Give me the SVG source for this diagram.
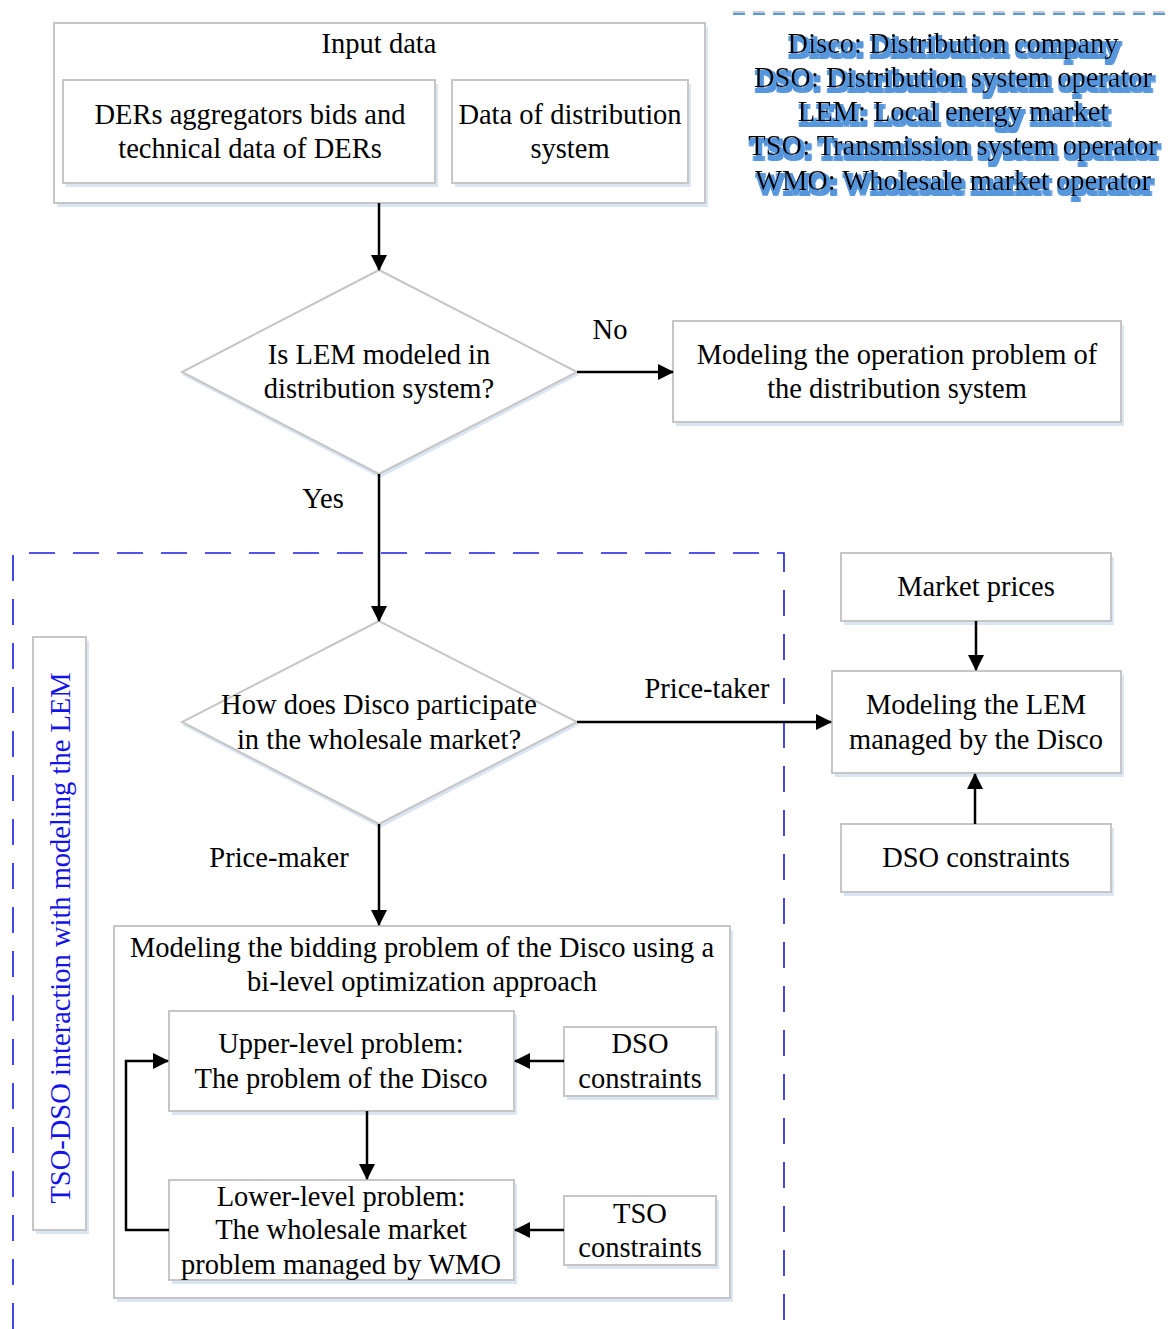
<svg xmlns="http://www.w3.org/2000/svg" width="1168" height="1329" viewBox="0 0 1168 1329">
<defs>
<style>
.box{fill:#fff;stroke:#c6c6c6;stroke-width:2}
.sh{fill:#dae6f4}
.t{font-family:"Liberation Serif","Times New Roman",serif;font-size:28.5px;fill:#000;text-anchor:middle}
.lg{font-family:"Liberation Serif","Times New Roman",serif;font-size:28.5px;fill:#000;text-anchor:middle;filter:url(#glow)}
.c{stroke:#000;stroke-width:2.5;fill:none}
.blue{font-family:"Liberation Serif","Times New Roman",serif;font-size:28.5px;fill:#1414e8;text-anchor:middle}
</style>
<marker id="ah" viewBox="0 0 16 16" refX="15" refY="8" markerWidth="16" markerHeight="16" markerUnits="userSpaceOnUse" orient="auto">
<path d="M0,0 L16,8 L0,16 Z" fill="#000"/>
</marker>
<filter id="glow" x="-10%" y="-30%" width="120%" height="180%">
<feMorphology in="SourceAlpha" operator="dilate" radius="1.8" result="d"/>
<feOffset in="d" dx="2" dy="4" result="o"/>
<feGaussianBlur in="o" stdDeviation="0.7" result="b"/>
<feFlood flood-color="#5696dc"/>
<feComposite in2="b" operator="in" result="s"/>
<feMerge><feMergeNode in="s"/><feMergeNode in="SourceGraphic"/></feMerge>
</filter>
</defs>
<rect width="1168" height="1329" fill="#fff"/>

<!-- legend -->
<g id="legend">
<line x1="733" y1="14" x2="1168" y2="14" stroke="#5a9ad8" stroke-width="2" stroke-dasharray="12,8"/>
<line x1="733" y1="12" x2="1168" y2="12" stroke="#bbbbbb" stroke-width="1.5" stroke-dasharray="12,8"/>
<text class="lg" x="953" y="53">Disco: Distribution company</text>
<text class="lg" x="953" y="87">DSO: Distribution system operator</text>
<text class="lg" x="953" y="121">LEM: Local energy market</text>
<text class="lg" x="953" y="155">TSO: Transmission system operator</text>
<text class="lg" x="953" y="190">WMO: Wholesale market operator</text>
</g>

<!-- dashed region -->
<g id="region">
<path d="M13,1329 V553 H784 V1329" fill="none" stroke="#1a1ae6" stroke-width="1.6" stroke-dasharray="26,18"/>
</g>

<g id="input">
<rect class="sh" x="57" y="27" width="651" height="180"/>
<rect class="box" x="54" y="23" width="651" height="180"/>
<text class="t" x="379" y="53">Input data</text>
</g>
<g id="ders">
<rect class="sh" x="66" y="84" width="372" height="103"/>
<rect class="box" x="63" y="80" width="372" height="103"/>
<text class="t" x="250" y="124">DERs aggregators bids and</text>
<text class="t" x="250" y="158">technical data of DERs</text>
</g>
<g id="dist">
<rect class="sh" x="455" y="84" width="236" height="103"/>
<rect class="box" x="452" y="80" width="236" height="103"/>
<text class="t" x="570" y="124">Data of distribution</text>
<text class="t" x="570" y="158">system</text>
</g>

<g id="q1">
<polygon class="sh" points="380,274 182,375 380,478 579,375"/>
<polygon class="box" points="379,270 182,372 379,474 577,372"/>
<text class="t" x="379" y="364">Is LEM modeled in</text>
<text class="t" x="379" y="398">distribution system?</text>
</g>

<g id="op">
<rect class="sh" x="676" y="325" width="448" height="101"/>
<rect class="box" x="673" y="321" width="448" height="101"/>
<text class="t" x="897" y="364">Modeling the operation problem of</text>
<text class="t" x="897" y="398">the distribution system</text>
</g>

<g id="q2">
<polygon class="sh" points="380,625 182,725 380,828 579,725"/>
<polygon class="box" points="379,621 182,722 379,824 577,722"/>
<text class="t" x="379" y="714">How does Disco participate</text>
<text class="t" x="379" y="749">in the wholesale market?</text>
</g>

<g id="label">
<rect class="sh" x="36" y="641" width="53" height="593"/>
<rect class="box" x="33" y="637" width="53" height="593"/>
<text class="blue" transform="translate(70,938) rotate(-90)">TSO-DSO interaction with modeling the LEM</text>
</g>

<g id="mprices">
<rect class="sh" x="844" y="557" width="270" height="68"/>
<rect class="box" x="841" y="553" width="270" height="68"/>
<text class="t" x="976" y="596">Market prices</text>
</g>
<g id="lem">
<rect class="sh" x="835" y="675" width="289" height="102"/>
<rect class="box" x="832" y="671" width="289" height="102"/>
<text class="t" x="976" y="714">Modeling the LEM</text>
<text class="t" x="976" y="749">managed by the Disco</text>
</g>
<g id="dsoc1">
<rect class="sh" x="844" y="828" width="270" height="68"/>
<rect class="box" x="841" y="824" width="270" height="68"/>
<text class="t" x="976" y="867">DSO constraints</text>
</g>

<g id="bid">
<rect class="sh" x="117" y="930" width="616" height="372"/>
<rect class="box" x="114" y="926" width="616" height="372"/>
<text class="t" x="422" y="957">Modeling the bidding problem of the Disco using a</text>
<text class="t" x="422" y="991">bi-level optimization approach</text>
</g>
<g id="upper">
<rect class="sh" x="172" y="1015" width="345" height="100"/>
<rect class="box" x="169" y="1011" width="345" height="100"/>
<text class="t" x="341" y="1053">Upper-level problem:</text>
<text class="t" x="341" y="1088">The problem of the Disco</text>
</g>
<g id="dsoc2">
<rect class="sh" x="567" y="1031" width="152" height="69"/>
<rect class="box" x="564" y="1027" width="152" height="69"/>
<text class="t" x="640" y="1053">DSO</text>
<text class="t" x="640" y="1088">constraints</text>
</g>
<g id="lower">
<rect class="sh" x="172" y="1184" width="345" height="100"/>
<rect class="box" x="169" y="1180" width="345" height="100"/>
<text class="t" x="341" y="1206">Lower-level problem:</text>
<text class="t" x="341" y="1239">The wholesale market</text>
<text class="t" x="341" y="1274">problem managed by WMO</text>
</g>
<g id="tsoc">
<rect class="sh" x="567" y="1200" width="152" height="69"/>
<rect class="box" x="564" y="1196" width="152" height="69"/>
<text class="t" x="640" y="1223">TSO</text>
<text class="t" x="640" y="1257">constraints</text>
</g>

<g id="connectors">
<line class="c" x1="379" y1="203" x2="379" y2="270" marker-end="url(#ah)"/>
<line class="c" x1="577" y1="372" x2="673" y2="372" marker-end="url(#ah)"/>
<line class="c" x1="379" y1="474" x2="379" y2="621" marker-end="url(#ah)"/>
<line class="c" x1="577" y1="722" x2="831" y2="722" marker-end="url(#ah)"/>
<line class="c" x1="379" y1="824" x2="379" y2="925" marker-end="url(#ah)"/>
<line class="c" x1="976" y1="621" x2="976" y2="670" marker-end="url(#ah)"/>
<line class="c" x1="975" y1="824" x2="975" y2="774" marker-end="url(#ah)"/>
<line class="c" x1="564" y1="1061" x2="515" y2="1061" marker-end="url(#ah)"/>
<line class="c" x1="564" y1="1230" x2="515" y2="1230" marker-end="url(#ah)"/>
<line class="c" x1="367" y1="1111" x2="367" y2="1179" marker-end="url(#ah)"/>
<path class="c" d="M169,1230 H126 V1061 H168" marker-end="url(#ah)"/>
<text class="t" x="610" y="339">No</text>
<text class="t" x="323" y="508">Yes</text>
<text class="t" x="707" y="698">Price-taker</text>
<text class="t" x="279" y="867">Price-maker</text>
</g>
</svg>
